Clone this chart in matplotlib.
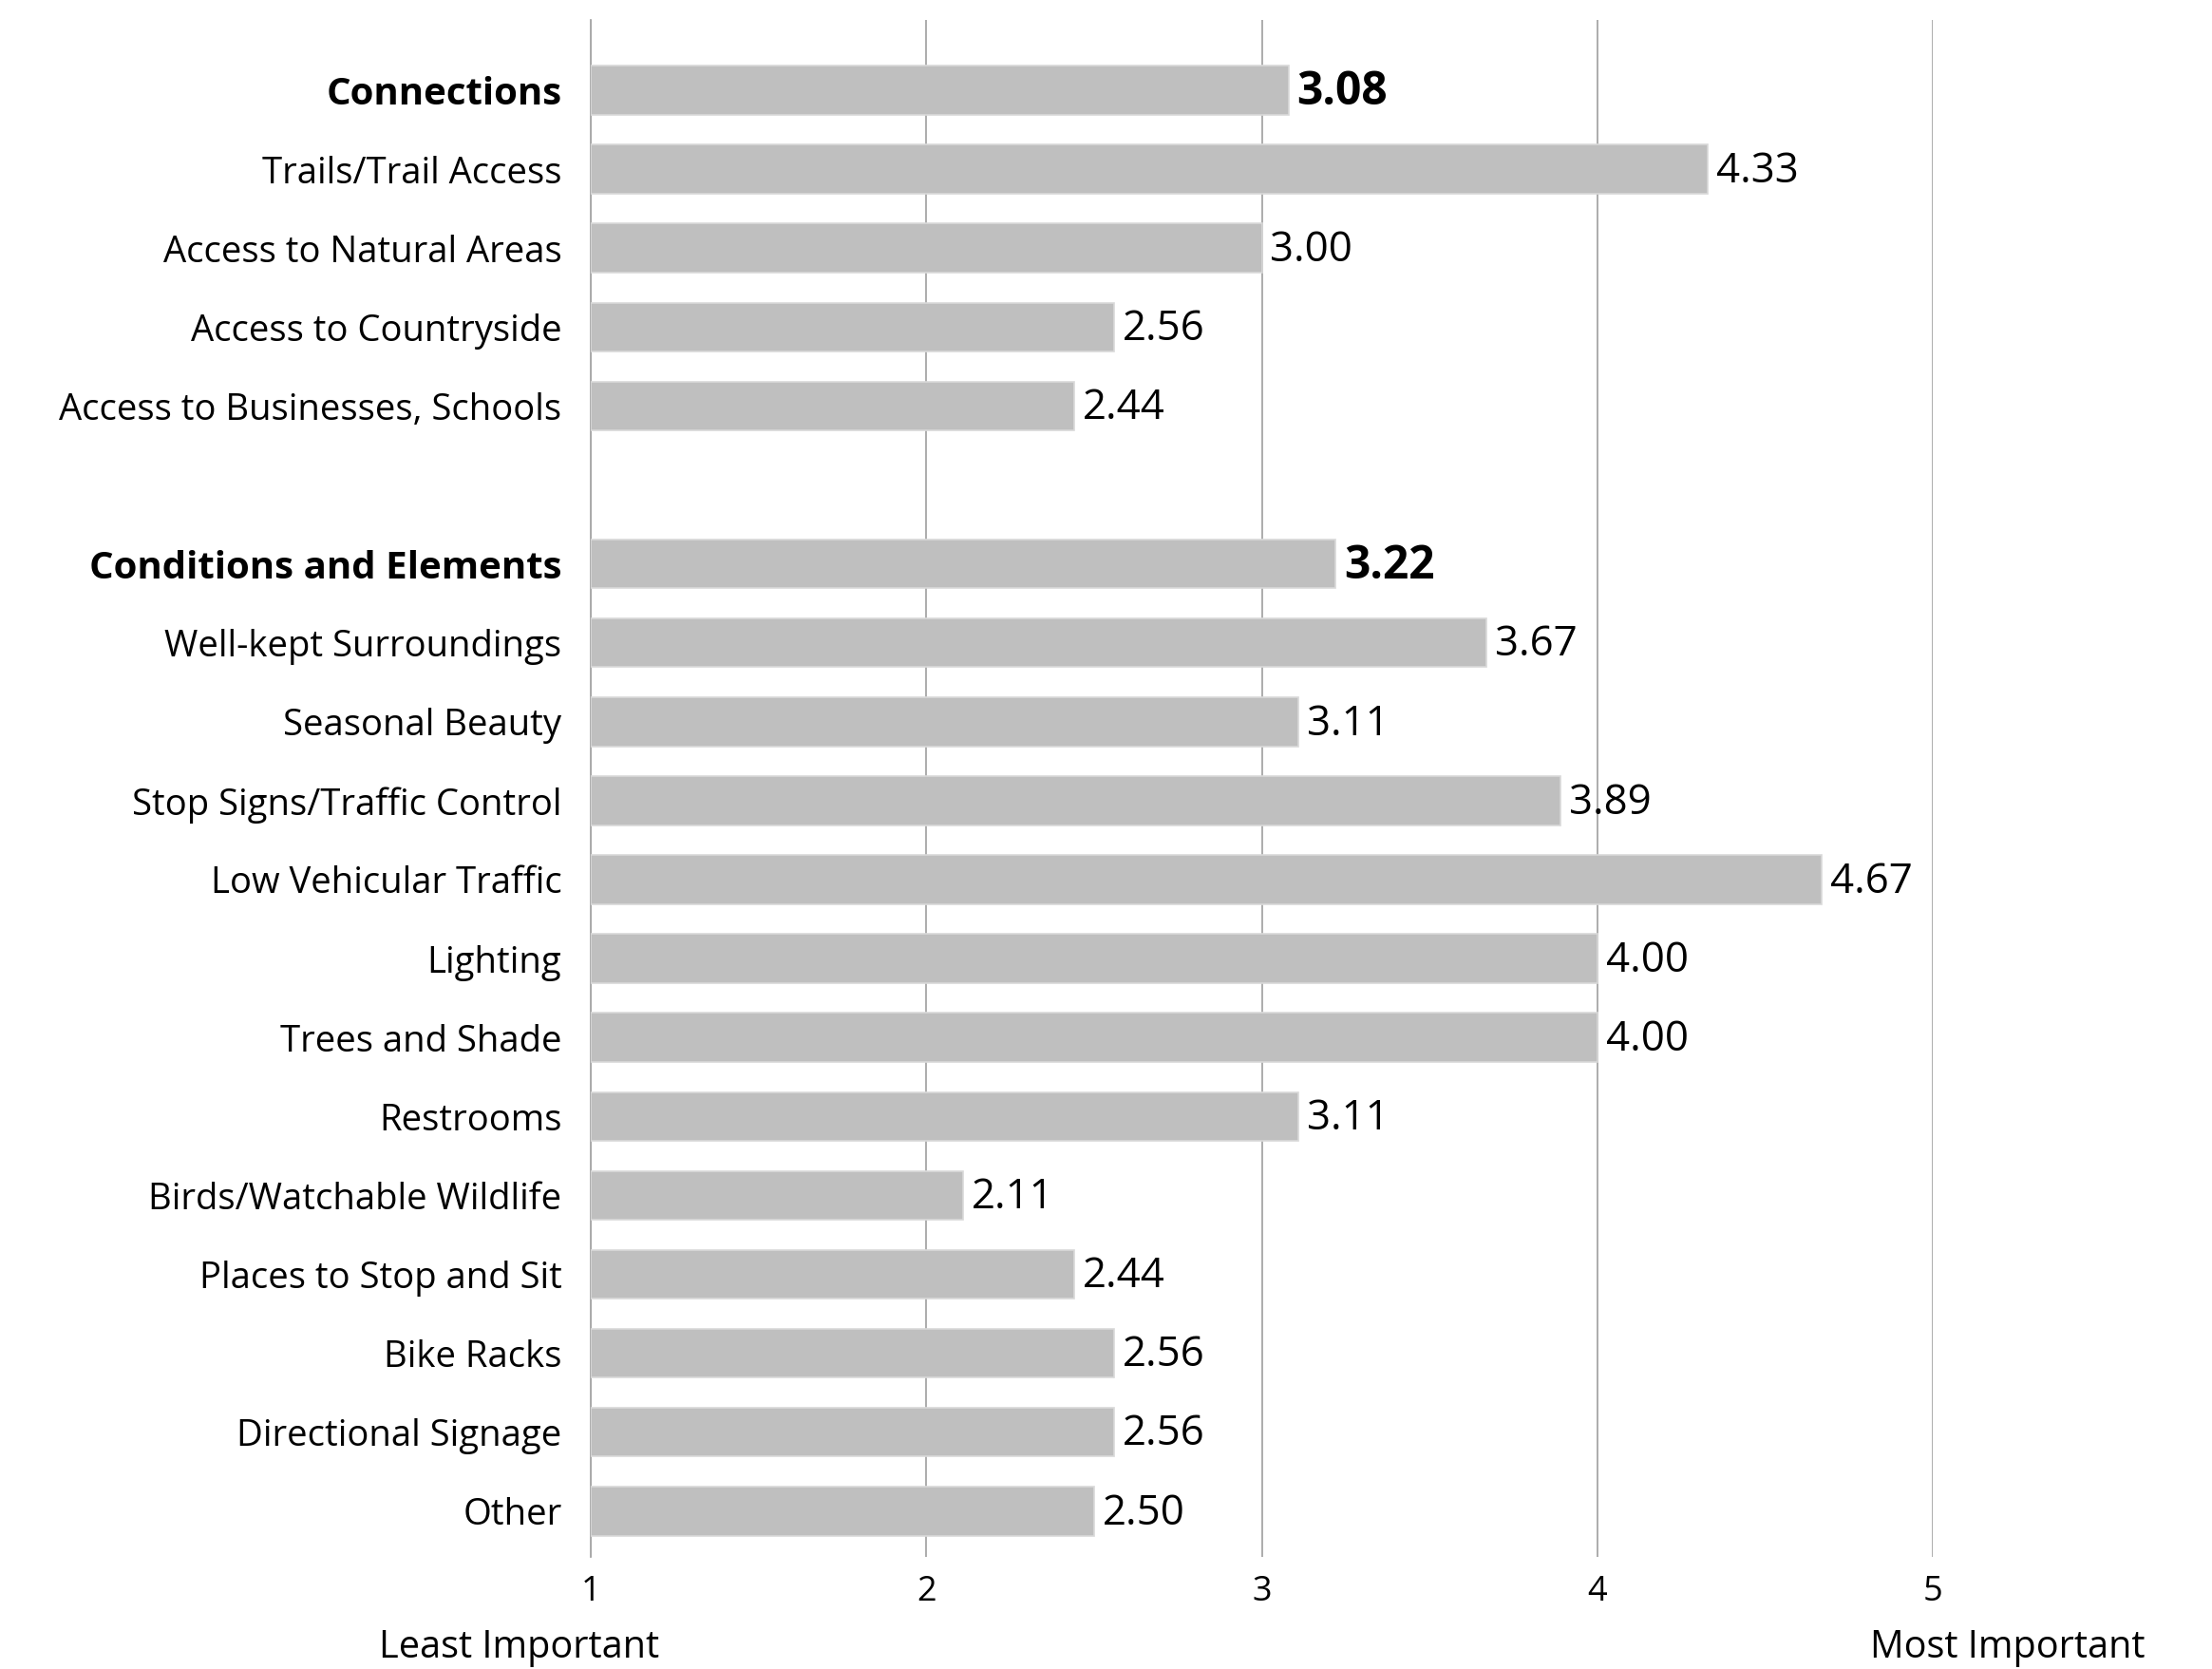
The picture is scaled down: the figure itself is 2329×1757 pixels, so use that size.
import matplotlib
matplotlib.use("Agg")
import matplotlib.pyplot as plt

plt.rcParams['font.family'] = ['Open Sans', 'DejaVu Sans']

connections_labels = ["Connections", "Trails/Trail Access", "Access to Natural Areas",
                      "Access to Countryside", "Access to Businesses, Schools"]
connections_values = [3.08, 4.33, 3.00, 2.56, 2.44]

conditions_labels = ["Conditions and Elements", "Well-kept Surroundings", "Seasonal Beauty",
                     "Stop Signs/Traffic Control", "Low Vehicular Traffic", "Lighting",
                     "Trees and Shade", "Restrooms", "Birds/Watchable Wildlife",
                     "Places to Stop and Sit", "Bike Racks", "Directional Signage", "Other"]
conditions_values = [3.22, 3.67, 3.11, 3.89, 4.67, 4.00, 4.00, 3.11, 2.11, 2.44, 2.56, 2.56, 2.50]

header_labels = ["Connections", "Conditions and Elements"]
x_ticks = [1, 2, 3, 4, 5]
axis_low_label = "Least Important"
axis_high_label = "Most Important"

labels = connections_labels + conditions_labels
values = connections_values + conditions_values
positions = list(range(len(connections_labels))) + \
    [len(connections_labels) + 1 + i for i in range(len(conditions_labels))]

W, H = 2329, 1757
fig = plt.figure(figsize=(W / 100, H / 100), dpi=100)
ax = fig.add_axes([622 / W, 1 - 1639 / H, (2035 - 622) / W, (1639 - 21) / H])

bar_color = "#bfbfbf"
ax.barh(positions, [v - 1 for v in values], left=1, height=0.62,
        color=bar_color, edgecolor="#d9d9d9", linewidth=1.2, zorder=3)

for lab, v, p in zip(labels, values, positions):
    is_head = lab in header_labels
    ax.text(v + 0.025, p + 0.03, f"{v:.2f}", va="center", ha="left",
            fontsize=34.5 if is_head else 31.5,
            fontweight="bold" if is_head else "medium", color="black", zorder=4)

ax.set_xlim(1, 5)
ax.set_ylim(18.58, -0.89)
ax.set_xticks(x_ticks)
ax.set_xticklabels([str(t) for t in x_ticks], fontsize=26)
ax.set_yticks(positions)
ax.set_yticklabels(labels, fontsize=27.5, fontweight="medium")
for tl in ax.get_yticklabels():
    if tl.get_text() in header_labels:
        tl.set_fontweight("bold")
        tl.set_fontsize(29)
ax.tick_params(axis="both", length=0, colors="black")
ax.tick_params(axis="y", pad=22)
ax.tick_params(axis="x", pad=14)

ax.grid(axis="x", color="#a6a6a6", linewidth=1.3, zorder=0)
ax.grid(axis="y", visible=False)
for s in ["top", "right", "bottom"]:
    ax.spines[s].set_visible(False)
ax.spines["left"].set_color("#a6a6a6")
ax.spines["left"].set_linewidth(1.3)
ax.spines["left"].set_zorder(1)
ax.set_axisbelow(True)

fig.text(547 / W, 1 - 1735 / H, axis_low_label, ha="center", va="center",
         fontsize=28.5, color="black")
fig.text(2114 / W, 1 - 1735 / H, axis_high_label, ha="center", va="center",
         fontsize=28.5, color="black")

fig.savefig("out.png", dpi=100, facecolor="white")
